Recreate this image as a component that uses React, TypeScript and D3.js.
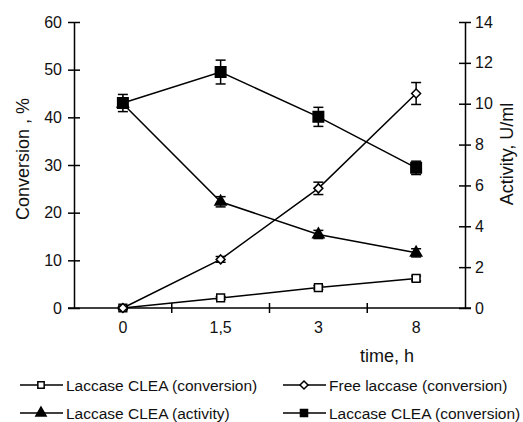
import React, { useEffect, useRef } from 'react';
import * as d3 from 'd3';

// time points (x categories)
const times = ['0', '1,5', '3', '8'];

// conversion, % (left axis)
const cleaConversion = [0, 2.1, 4.3, 6.2];
const cleaConversionErr = [0.3, 0.3, 0.4, 0.5];
const freeConversion = [0, 10.2, 25.1, 45.0];
const freeConversionErr = [0.3, 0.6, 1.3, 2.3];
const cleaConversion2 = [43.0, 49.5, 40.1, 29.4];
const cleaConversion2Err = [1.8, 2.5, 2.0, 1.4];

// activity, U/ml (right axis)
const cleaActivity = [10.0, 5.2, 3.6, 2.7];
const cleaActivityErr = [0.1, 0.25, 0.2, 0.2];

const leftTicks = [0, 10, 20, 30, 40, 50, 60];
const rightTicks = [0, 2, 4, 6, 8, 10, 12, 14];

const FONT = 'Arial, "Liberation Sans", sans-serif';

// small rhombus marker (square turned 45 degrees)
const rhombus = {
  draw(context: any, size: number) {
    const r = Math.sqrt(size / 2);
    context.moveTo(0, -r);
    context.lineTo(r, 0);
    context.lineTo(0, r);
    context.lineTo(-r, 0);
    context.closePath();
  },
};

const App = () => {
  const svgRef = useRef<SVGSVGElement>(null);

  useEffect(() => {
    const svg = d3.select(svgRef.current);
    svg.selectAll('*').remove();

    const width = 523;
    const height = 422;
    const left = 74;
    const right = 465;
    const top = 22;
    const bottom = 308;

    svg.attr('width', width).attr('height', height).style('background', '#fff');

    const x = d3.scaleBand().domain(times).range([left, right]);
    const cx = (d: string) => (x(d) as number) + x.bandwidth() / 2;
    const yL = d3.scaleLinear().domain([0, 60]).range([bottom, top]);
    const yR = d3.scaleLinear().domain([0, 14]).range([bottom, top]);

    // Left axis
    const gL = svg
      .append('g')
      .attr('transform', `translate(${left},0)`)
      .call(d3.axisLeft(yL).tickValues(leftTicks).tickSize(6).tickSizeOuter(0).tickPadding(6));
    gL.selectAll('.tick line').attr('x1', -6).attr('x2', 6);

    // Right axis
    const gR = svg
      .append('g')
      .attr('transform', `translate(${right},0)`)
      .call(d3.axisRight(yR).tickValues(rightTicks).tickSize(6).tickSizeOuter(0).tickPadding(4));
    gR.selectAll('.tick line').attr('x1', -6).attr('x2', 6);

    [gL, gR].forEach(g => {
      g.select('.domain').attr('stroke-width', 1.5);
      g.selectAll('.tick line').attr('stroke-width', 1.5);
      g.selectAll('text').attr('font-size', 16).attr('font-family', FONT).attr('fill', '#111');
    });

    // Bottom axis: line, ticks at band edges, labels at band centres
    svg
      .append('line')
      .attr('x1', left - 6)
      .attr('x2', right + 6)
      .attr('y1', bottom)
      .attr('y2', bottom)
      .attr('stroke', '#000')
      .attr('stroke-width', 1.5);

    svg
      .selectAll('.xtick')
      .data(times.slice(1))
      .join('line')
      .attr('class', 'xtick')
      .attr('x1', d => x(d) as number)
      .attr('x2', d => x(d) as number)
      .attr('y1', bottom - 5)
      .attr('y2', bottom + 5)
      .attr('stroke', '#000')
      .attr('stroke-width', 1.5);

    svg
      .selectAll('.xlabel')
      .data(times)
      .join('text')
      .attr('class', 'xlabel')
      .attr('x', d => cx(d))
      .attr('y', 333)
      .attr('text-anchor', 'middle')
      .attr('font-size', 16)
      .attr('font-family', FONT)
      .attr('fill', '#111')
      .text(d => d);

    // Axis titles
    svg
      .append('text')
      .attr('transform', 'translate(29,159) rotate(-90)')
      .attr('text-anchor', 'middle')
      .attr('font-size', 18)
      .attr('font-family', FONT)
      .attr('fill', '#111')
      .text('Conversion , %');

    svg
      .append('text')
      .attr('transform', 'translate(513,154) rotate(-90)')
      .attr('text-anchor', 'middle')
      .attr('font-size', 18)
      .attr('font-family', FONT)
      .attr('fill', '#111')
      .text('Activity, U/ml');

    svg
      .append('text')
      .attr('x', 387)
      .attr('y', 362)
      .attr('text-anchor', 'middle')
      .attr('font-size', 18)
      .attr('font-family', FONT)
      .attr('fill', '#111')
      .text('time, h');

    // Series
    const series = [
      { values: cleaConversion, err: cleaConversionErr, y: yL, symbol: d3.symbolSquare, size: 60, fill: '#fff' },
      { values: freeConversion, err: freeConversionErr, y: yL, symbol: rhombus, size: 40, fill: '#fff' },
      { values: cleaActivity, err: cleaActivityErr, y: yR, symbol: d3.symbolTriangle, size: 55, fill: '#000' },
      { values: cleaConversion2, err: cleaConversion2Err, y: yL, symbol: d3.symbolSquare, size: 110, fill: '#000' },
    ];

    const line = d3.line<[number, number]>();

    series.forEach(s => {
      const pts = s.values.map((v, i) => [cx(times[i]), s.y(v)] as [number, number]);
      svg
        .append('path')
        .attr('d', line(pts))
        .attr('fill', 'none')
        .attr('stroke', '#000')
        .attr('stroke-width', 1.5);
    });

    series.forEach(s => {
      const g = svg.append('g');
      s.values.forEach((v, i) => {
        const px = cx(times[i]);
        const y1 = s.y(v + s.err[i]);
        const y2 = s.y(v - s.err[i]);
        g.append('line').attr('x1', px).attr('x2', px).attr('y1', y1).attr('y2', y2).attr('stroke', '#000').attr('stroke-width', 1.5);
        [y1, y2].forEach(yy =>
          g.append('line').attr('x1', px - 5).attr('x2', px + 5).attr('y1', yy).attr('y2', yy).attr('stroke', '#000').attr('stroke-width', 1.5)
        );
      });
      g.selectAll('path')
        .data(s.values)
        .join('path')
        .attr('transform', (d, i) => `translate(${cx(times[i])},${s.y(d)})`)
        .attr('d', d3.symbol().type(s.symbol as any).size(s.size)())
        .attr('fill', s.fill)
        .attr('stroke', '#000')
        .attr('stroke-width', 1.5);
    });

    // Legend
    const legend = [
      { label: 'Laccase CLEA (conversion)', symbol: d3.symbolSquare, size: 40, fill: '#fff', x: 20, y: 385 },
      { label: 'Free laccase (conversion)', symbol: rhombus, size: 32, fill: '#fff', x: 283, y: 385 },
      { label: 'Laccase CLEA (activity)', symbol: d3.symbolTriangle, size: 45, fill: '#000', x: 20, y: 413 },
      { label: 'Laccase CLEA (conversion)', symbol: d3.symbolSquare, size: 50, fill: '#000', x: 283, y: 413 },
    ];

    const lg = svg.selectAll('.legend').data(legend).join('g').attr('class', 'legend').attr('transform', d => `translate(${d.x},${d.y})`);
    lg.append('line').attr('x1', 0).attr('x2', 43).attr('stroke', '#000').attr('stroke-width', 1.5);
    lg.append('path')
      .attr('transform', 'translate(21,0)')
      .attr('d', d => d3.symbol().type(d.symbol as any).size(d.size)())
      .attr('fill', d => d.fill)
      .attr('stroke', '#000')
      .attr('stroke-width', 1.5);
    lg.append('text')
      .attr('x', 46)
      .attr('y', 6)
      .attr('font-size', 15.5)
      .attr('font-family', FONT)
      .attr('fill', '#111')
      .text(d => d.label);
  }, []);

  return <svg ref={svgRef} style={{ position: 'absolute', left: 0, top: 0 }}></svg>;
};

export default App;
